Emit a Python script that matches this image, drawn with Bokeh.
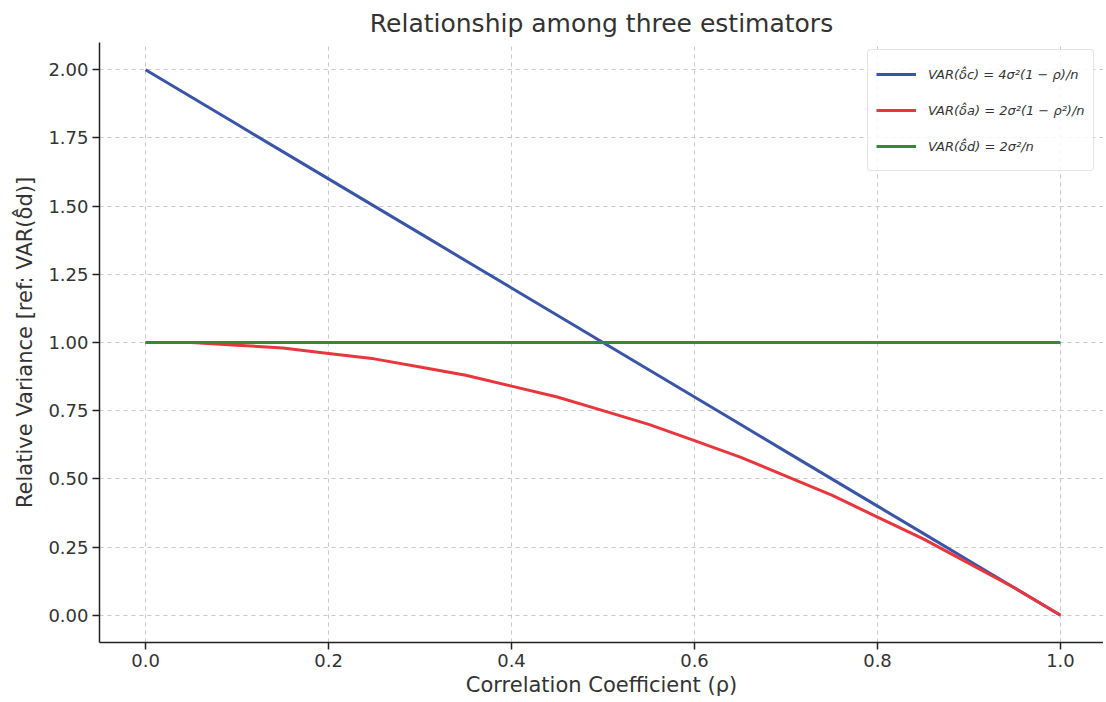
from bokeh.plotting import figure
from bokeh.models import Range1d, NumeralTickFormatter, FixedTicker
from bokeh.embed import file_html
from bokeh.resources import INLINE

# Data
rho = [0.00, 0.05, 0.10, 0.15, 0.20, 0.25, 0.30, 0.35, 0.40, 0.45, 0.50,
       0.55, 0.60, 0.65, 0.70, 0.75, 0.80, 0.85, 0.90, 0.95, 1.00]
var_c = [2.00, 1.90, 1.80, 1.70, 1.60, 1.50, 1.40, 1.30, 1.20, 1.10, 1.00,
         0.90, 0.80, 0.70, 0.60, 0.50, 0.40, 0.30, 0.20, 0.10, 0.00]
var_a = [1.00, 1.00, 0.99, 0.98, 0.96, 0.94, 0.91, 0.88, 0.84, 0.80, 0.75,
         0.70, 0.64, 0.58, 0.51, 0.44, 0.36, 0.28, 0.19, 0.10, 0.00]
var_d = [1.00] * len(rho)

x_ticks = [0.0, 0.2, 0.4, 0.6, 0.8, 1.0]
y_ticks = [0.00, 0.25, 0.50, 0.75, 1.00, 1.25, 1.50, 1.75, 2.00]

labels = ["VAR(δ̂c) = 4σ²(1 − ρ)/n",
          "VAR(δ̂a) = 2σ²(1 − ρ²)/n",
          "VAR(δ̂d) = 2σ²/n"]
colors = ["#3A55A8", "#E8363C", "#2E8B3A"]

FONT = "DejaVu Sans"
TXT = "#333333"

p = figure(frame_width=1004, frame_height=600,
           x_range=Range1d(-0.0503, 1.047), y_range=Range1d(-0.1, 2.1),
           output_backend="svg", toolbar_location=None,
           min_border_left=99, min_border_right=0,
           min_border_top=42, min_border_bottom=0,
           title="Relationship among three estimators")

p.title.text_font = FONT
p.title.text_font_size = "25px"
p.title.text_font_style = "normal"
p.title.text_color = TXT
p.title.align = "center"

p.outline_line_color = None
p.background_fill_color = "white"
p.border_fill_color = "white"

p.xaxis.ticker = FixedTicker(ticks=x_ticks)
p.yaxis.ticker = FixedTicker(ticks=y_ticks)
p.xaxis.formatter = NumeralTickFormatter(format="0.0")
p.yaxis.formatter = NumeralTickFormatter(format="0.00")
p.xaxis.axis_label = "Correlation Coefficient (ρ)"
p.yaxis.axis_label = "Relative Variance [ref: VAR(δ̂d)]"

for ax in (p.xaxis, p.yaxis):
    ax.axis_label_text_font = FONT
    ax.axis_label_text_font_size = "21px"
    ax.axis_label_text_font_style = "normal"
    ax.axis_label_text_color = TXT
    ax.major_label_text_font = FONT
    ax.major_label_text_font_size = "18px"
    ax.major_label_text_color = TXT
    ax.axis_line_color = "#222222"
    ax.axis_line_width = 1.5
    ax.major_tick_line_color = "#222222"
    ax.major_tick_line_width = 1.5
    ax.major_tick_out = 7
    ax.major_tick_in = 0
    ax.minor_tick_line_color = None
    ax.major_label_standoff = 4

p.xaxis.axis_label_standoff = 3
p.yaxis.axis_label_standoff = 8

p.grid.grid_line_color = "#c8c8c8"
p.grid.grid_line_dash = "4 4"
p.grid.grid_line_width = 1

p.line(rho, var_c, line_color=colors[0], line_width=3, legend_label=labels[0])
p.line(rho, var_a, line_color=colors[1], line_width=3, legend_label=labels[1])
p.line(rho, var_d, line_color=colors[2], line_width=3, legend_label=labels[2])

lg = p.legend[0]
lg.location = (768, 471)
lg.margin = 0
lg.label_text_font = FONT
lg.label_text_font_size = "13px"
lg.label_text_font_style = "italic"
lg.label_text_color = TXT
lg.label_height = 32
lg.glyph_width = 40
lg.glyph_height = 32
lg.spacing = 4
lg.padding = 8
lg.label_standoff = 12
lg.border_line_color = "#cccccc"
lg.border_line_width = 1.5
lg.border_radius = 4
lg.background_fill_alpha = 0.85

open("out.html", "w").write(file_html(p, INLINE))
